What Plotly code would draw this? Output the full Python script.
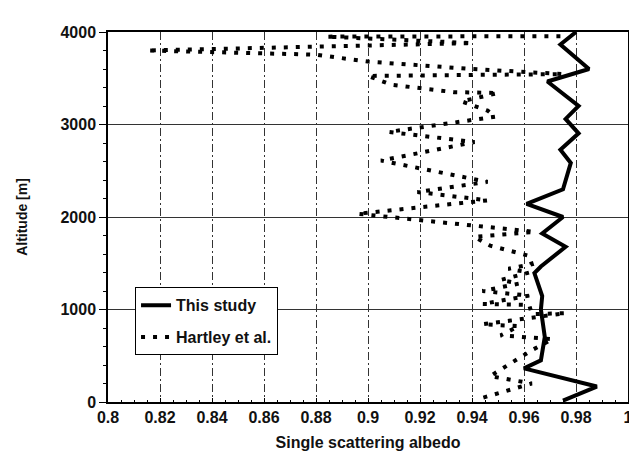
import plotly.graph_objects as go

# ---- data ----
albedo_study = [0.980, 0.974, 0.985, 0.969, 0.981, 0.976, 0.981, 0.974, 0.978, 0.975,
                0.961, 0.975, 0.967, 0.976, 0.9665, 0.964, 0.967, 0.9665, 0.968, 0.9665,
                0.960, 0.988, 0.975]
alt_study = [4000, 3865, 3600, 3465, 3200, 3060, 2905, 2727, 2585, 2300,
             2141, 2000, 1821, 1678, 1465, 1394, 1145, 1000, 704, 451,
             363, 167, 15]

albedo_hartley = [0.974, 0.884, 0.940, 0.815, 0.880, 0.900, 0.940, 0.975, 0.900, 0.909,
                  0.933, 0.950, 0.936, 0.946, 0.949, 0.908, 0.941, 0.905, 0.946, 0.919,
                  0.946, 0.896, 0.964, 0.941, 0.947, 0.962, 0.963, 0.954, 0.962, 0.951,
                  0.958, 0.944, 0.962, 0.944, 0.962, 0.963, 0.976, 0.944, 0.958, 0.951,
                  0.971, 0.963, 0.947, 0.963, 0.944]
alt_hartley = [3955, 3950, 3880, 3800, 3755, 3680, 3600, 3545, 3525, 3430,
               3350, 3340, 3250, 3150, 3085, 2920, 2810, 2610, 2380, 2270,
               2180, 2035, 1840, 1785, 1690, 1580, 1490, 1440, 1400, 1320,
               1280, 1200, 1150, 1060, 1050, 950, 960, 840, 820, 720,
               680, 560, 280, 200, 45]

x_tickvals = [0.8, 0.82, 0.84, 0.86, 0.88, 0.9, 0.92, 0.94, 0.96, 0.98, 1.0]
x_ticktext = ["0.8", "0.82", "0.84", "0.86", "0.88", "0.9", "0.92", "0.94", "0.96", "0.98", "1"]
y_tickvals = [0, 1000, 2000, 3000, 4000]
y_ticktext = ["0", "1000", "2000", "3000", "4000"]

FONT = "Liberation Sans"

fig = go.Figure()
fig.add_trace(go.Scatter(
    x=albedo_study, y=alt_study, mode="lines", name="This study",
    line=dict(color="black", width=4), legendgroup="a"))
fig.add_trace(go.Scatter(
    x=albedo_hartley, y=alt_hartley, mode="lines", name="Hartley et al.",
    line=dict(color="black", width=4, dash="4px,8px"), legendgroup="b"))

fig.update_layout(
    width=637, height=453,
    margin=dict(l=100, r=17, t=24, b=54),
    paper_bgcolor="white", plot_bgcolor="white",
    font=dict(family=FONT, size=16, color="#111"),
    legend=dict(
        x=0.052, y=0.31, xanchor="left", yanchor="top",
        bgcolor="white", bordercolor="black", borderwidth=1,
        font=dict(family=FONT, size=16, color="#111", weight="bold"),
        tracegroupgap=8,
    ),
    showlegend=True,
)

fig.update_xaxes(
    range=[0.8, 1.0], tickvals=x_tickvals, ticktext=x_ticktext,
    showline=True, linecolor="black", linewidth=1.5, mirror=True,
    ticks="inside", ticklen=4, tickcolor="black",
    minor=dict(dtick=0.005, ticks="inside", ticklen=2, tickcolor="black", showgrid=False),
    showgrid=True, gridcolor="#333", gridwidth=1, griddash="8px,3px,2px,3px",
    zeroline=False,
    tickfont=dict(family=FONT, size=16, color="#111", weight="bold"),
    title=dict(text="Single scattering albedo", standoff=12,
               font=dict(family=FONT, size=16, color="#111", weight="bold")),
)
fig.update_yaxes(
    range=[0, 4000], tickvals=y_tickvals, ticktext=y_ticktext,
    showline=True, linecolor="black", linewidth=1.5, mirror=True,
    ticks="outside", ticklen=7, tickcolor="black",
    minor=dict(dtick=200, ticks="outside", ticklen=3, tickcolor="black", showgrid=False),
    showgrid=True, gridcolor="#333", gridwidth=1,
    zeroline=False,
    tickfont=dict(family=FONT, size=16, color="#111", weight="bold"),
    title=dict(text="Altitude [m]", standoff=30,
               font=dict(family=FONT, size=14, color="#111", weight="bold")),
)

fig.write_html("out.html")
